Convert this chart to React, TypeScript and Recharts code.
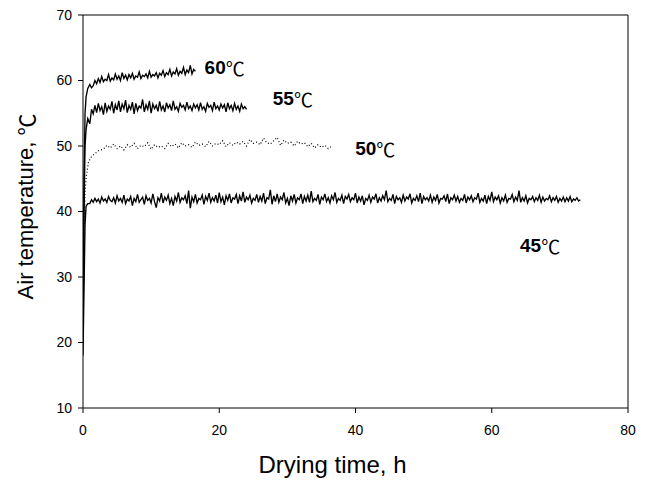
import React from "react";
import { LineChart, Line, XAxis, YAxis, ReferenceLine, ReferenceDot, Label } from "recharts";

const FONT = "'Liberation Sans', Arial, Helvetica, sans-serif";
const CJK = "'Noto Sans CJK SC', 'Noto Sans CJK JP', sans-serif";

const X_TICKS = [0, 20, 40, 60, 80];
const Y_TICKS = [10, 20, 30, 40, 50, 60, 70];
const STEP_FINE = 0.25;
const STEP_DOT = 0.5;

// 45 ℃
const T45_RISE = [0, 0.15, 0.3, 0.45, 0.7];
const V45_RISE = [18, 28, 38, 40.8, 41.2];
const T45_START = 1.0;
const V45 = [
  41.2, 41.8, 41.4, 42.0, 41.5, 41.9, 41.3, 42.2, 41.6, 41.9, 41.4, 42.3, 41.7, 41.5, 42.1, 41.3, 42.4, 41.6, 42.0, 41.4,
  42.5, 41.2, 41.9, 41.6, 42.3, 40.9, 42.0, 41.5, 42.6, 41.4, 41.8, 42.2, 41.1, 42.4, 41.7, 42.0, 41.3, 42.7, 41.5, 40.6,
  42.1, 41.6, 42.8, 41.3, 42.2, 41.7, 42.5, 41.2, 42.0, 40.9, 42.3, 41.6, 42.9, 41.4, 42.1, 41.8, 42.4, 41.2, 43.2, 40.5,
  42.2, 41.5, 42.6, 41.3, 42.0, 41.8, 42.5, 41.1, 42.3, 41.7, 42.8, 41.4, 42.1, 41.6, 42.5, 41.3, 42.9, 41.5, 42.2, 41.0,
  42.4, 41.7, 42.7, 41.3, 42.1, 41.9, 42.6, 41.2, 42.4, 41.6, 43.0, 41.4, 42.2, 41.8, 42.5, 41.3, 42.0, 41.7, 42.6, 41.4,
  42.3, 41.6, 42.8, 41.2, 42.1, 41.9, 43.3, 41.1, 42.4, 41.5, 42.7, 41.4, 42.2, 41.8, 42.9, 41.3, 42.0, 40.9, 42.4, 41.6,
  42.6, 41.3, 42.1, 41.8, 42.7, 41.2, 42.3, 41.6, 42.5, 41.4, 43.1, 41.5, 42.0, 41.7, 42.6, 41.1, 42.2, 41.8, 42.7, 41.5,
  42.1, 41.3, 42.4, 41.8, 42.9, 41.4, 42.0, 41.7, 42.5, 41.2, 42.3, 41.9, 42.6, 41.5, 42.1, 41.8, 42.8, 41.3, 42.2, 41.6,
  42.4, 41.0, 42.0, 41.7, 42.5, 41.4, 42.2, 41.9, 42.7, 41.3, 42.1, 41.6, 42.4, 41.8, 43.2, 41.5, 42.0, 41.7, 42.6, 41.2,
  42.3, 41.8, 42.1, 41.4, 42.5, 41.6, 42.2, 41.9, 42.7, 41.3, 42.0, 41.7, 42.4, 41.5, 42.8, 41.2, 42.3, 41.8, 42.1, 41.6,
  42.5, 41.4, 42.2, 41.7, 42.6, 41.3, 42.0, 41.9, 42.4, 41.5, 42.7, 41.2, 42.1, 41.8, 42.5, 41.6, 42.3, 41.4, 42.0, 41.7,
  42.6, 41.3, 42.2, 41.8, 42.4, 41.5, 42.1, 41.9, 42.8, 41.4, 42.0, 41.6, 42.5, 41.2, 42.3, 41.7, 43.0, 41.5, 42.2, 41.8,
  42.4, 41.3, 42.1, 41.6, 42.5, 41.4, 42.0, 41.9, 42.6, 41.5, 42.2, 41.7, 43.2, 41.4, 42.1, 41.6, 42.4, 41.3, 42.0, 41.8,
  42.3, 41.5, 42.1, 41.7, 42.5, 41.4, 42.2, 41.6, 42.0, 41.8, 42.4, 41.5, 42.1, 41.7, 42.3, 41.4, 42.0, 41.6, 42.2, 41.5,
  42.1, 41.6, 42.3, 41.5, 41.9, 41.7, 42.1, 41.6, 41.8,
];

// 50 ℃ (dotted)
const T50_RISE = [0, 0.15, 0.3, 0.5, 0.8, 1.2, 1.7, 2.3];
const V50_RISE = [22, 35, 43, 45.5, 47.5, 48.3, 48.8, 49.3];
const T50_START = 3.0;
const V50 = [
  49.5, 50.1, 49.7, 50.3, 49.6, 50.0, 49.4, 50.2, 49.8, 50.4, 49.6, 50.1, 49.9, 50.5, 49.5, 50.2, 49.8, 50.0, 49.6, 50.4,
  49.9, 50.3, 49.7, 50.5, 50.0, 50.2, 49.8, 50.6, 50.1, 50.3, 49.9, 50.7, 50.0, 50.4, 50.2, 50.8, 49.9, 50.5, 50.1, 50.6,
  50.3, 50.7, 50.0, 51.0, 50.4, 50.6, 50.2, 51.2, 50.5, 50.3, 50.8, 51.3, 50.1, 50.9, 50.4, 50.6, 50.0, 50.7, 50.3, 50.5,
  49.9, 50.4, 49.7, 50.2, 49.8, 50.1, 49.6, 50.0,
];

// 55 ℃
const T55_RISE = [0, 0.15, 0.3, 0.45, 0.7, 1.0, 1.25];
const V55_RISE = [24, 40, 50, 52.5, 54.2, 53.4, 55.6];
const T55_START = 1.5;
const V55 = [
  54.9, 56.2, 55.1, 56.5, 55.4, 56.0, 54.8, 56.6, 55.3, 56.1, 55.6, 56.8, 55.0, 56.3, 55.5, 56.9, 55.2, 56.4, 55.7, 57.0,
  55.1, 56.2, 55.6, 56.7, 54.9, 56.5, 55.4, 56.1, 55.8, 57.1, 55.2, 56.3, 55.6, 56.9, 55.0, 56.4, 55.7, 56.2, 55.3, 56.8,
  55.5, 56.1, 55.2, 56.6, 55.8, 56.3, 55.4, 56.9, 55.6, 56.0, 55.3, 56.5, 55.9, 56.2, 55.5, 56.7, 55.7, 56.1, 55.4, 56.4,
  55.8, 56.3, 55.5, 56.6, 55.6, 56.0, 55.3, 56.5, 55.9, 56.2, 55.4, 56.7, 55.7, 56.1, 55.5, 56.4, 55.8, 56.3, 55.2, 56.6,
  55.7, 56.2, 55.4, 56.5, 55.6, 56.1, 55.3, 56.4, 55.7, 56.0, 55.6,
];

// 60 ℃
const T60_RISE = [0, 0.15, 0.3, 0.45, 0.7, 1.0, 1.25];
const V60_RISE = [26, 45, 55, 57.5, 58.8, 59.4, 58.9];
const T60_START = 1.5;
const V60 = [
  59.2, 60.0, 59.5, 60.3, 59.7, 60.6, 59.8, 60.2, 60.0, 60.9, 59.9, 60.4, 60.1, 61.0, 60.2, 60.7, 60.0, 61.2, 60.3, 60.8,
  60.1, 60.9, 60.4, 61.1, 60.2, 60.7, 60.5, 61.3, 60.3, 60.8, 60.6, 61.0, 60.4, 61.4, 60.5, 60.9, 60.7, 61.2, 60.4, 61.1,
  60.8, 61.5, 60.6, 61.2, 60.9, 61.7, 60.7, 61.3, 61.0, 61.8, 60.8, 61.4, 61.1, 62.0, 60.9, 61.6, 61.2, 62.3, 61.0, 61.7,
  61.4,
];

const CURVE_LABELS = [
  { num: "60", t: 20.8, v: 62.1 },
  { num: "55", t: 30.8, v: 57.3 },
  { num: "50", t: 42.9, v: 49.7 },
  { num: "45", t: 67.1, v: 34.9 },
];

function build(riseT: number[], riseV: number[], start: number, step: number, vals: number[]) {
  const out = riseT.map((t, i) => ({ t, v: riseV[i] }));
  vals.forEach((v, i) => out.push({ t: start + i * step, v }));
  return out;
}

const d45 = build(T45_RISE, V45_RISE, T45_START, STEP_FINE, V45);
const d50 = build(T50_RISE, V50_RISE, T50_START, STEP_DOT, V50);
const d55 = build(T55_RISE, V55_RISE, T55_START, STEP_FINE, V55);
const d60 = build(T60_RISE, V60_RISE, T60_START, STEP_FINE, V60);

const YTitle = (props: any) => {
  const vb = props.viewBox;
  const cx = vb.x + 25;
  const cy = vb.y + vb.height / 2 - 5;
  return (
    <text x={cx} y={cy} transform={`rotate(-90 ${cx} ${cy})`} textAnchor="middle" dominantBaseline="central"
      fontFamily={FONT} fontSize={22} fill="#000">
      <tspan>Air temperature, </tspan>
      <tspan fontFamily={CJK}>℃</tspan>
    </text>
  );
};

const XTitle = (props: any) => {
  const vb = props.viewBox;
  const cx = vb.x + vb.width / 2 - 23;
  return (
    <text x={cx} y={473} textAnchor="middle" fontFamily={FONT} fontSize={24} fill="#000">
      Drying time, h
    </text>
  );
};

const makeCurveLabel = (num: string) => (props: any) => {
  const vb = props.viewBox;
  return (
    <text x={vb.x} y={vb.y} textAnchor="middle" dominantBaseline="central" fill="#000" fontSize={19}>
      <tspan fontFamily={FONT} fontWeight="bold">{num}</tspan>
      <tspan fontFamily={CJK} fontWeight="normal">℃</tspan>
    </text>
  );
};

export default function App() {
  return (
    <div style={{ position: "absolute", left: 0, top: 0, background: "#fff" }}>
      <LineChart width={648} height={482} margin={{ top: 15, right: 20, left: 0, bottom: 0 }}>
        <XAxis
          type="number"
          dataKey="t"
          domain={[0, 80]}
          ticks={X_TICKS}
          allowDataOverflow
          height={74}
          tickSize={5}
          tickMargin={12}
          stroke="#000"
          tick={{ fill: "#000", fontSize: 14, fontFamily: FONT }}
        >
          <Label content={XTitle} />
        </XAxis>
        <YAxis
          type="number"
          domain={[10, 70]}
          ticks={Y_TICKS}
          allowDataOverflow
          width={83}
          tickSize={5}
          tickMargin={6}
          stroke="#000"
          tick={{ fill: "#000", fontSize: 14, fontFamily: FONT }}
        >
          <Label content={YTitle} />
        </YAxis>
        <ReferenceLine y={70} stroke="#000" strokeWidth={1} />
        <ReferenceLine x={80} stroke="#000" strokeWidth={1} />
        <Line data={d45} dataKey="v" type="linear" stroke="#000" strokeWidth={1.35} dot={false} isAnimationActive={false} />
        <Line data={d50} dataKey="v" type="linear" stroke="#000" strokeWidth={1.2} strokeDasharray="1 2.2" dot={false} isAnimationActive={false} />
        <Line data={d55} dataKey="v" type="linear" stroke="#000" strokeWidth={1.35} dot={false} isAnimationActive={false} />
        <Line data={d60} dataKey="v" type="linear" stroke="#000" strokeWidth={1.35} dot={false} isAnimationActive={false} />
        {CURVE_LABELS.map((l) => (
          <ReferenceDot key={l.num} x={l.t} y={l.v} r={0} stroke="none" fill="none" label={makeCurveLabel(l.num)} />
        ))}
      </LineChart>
    </div>
  );
}
